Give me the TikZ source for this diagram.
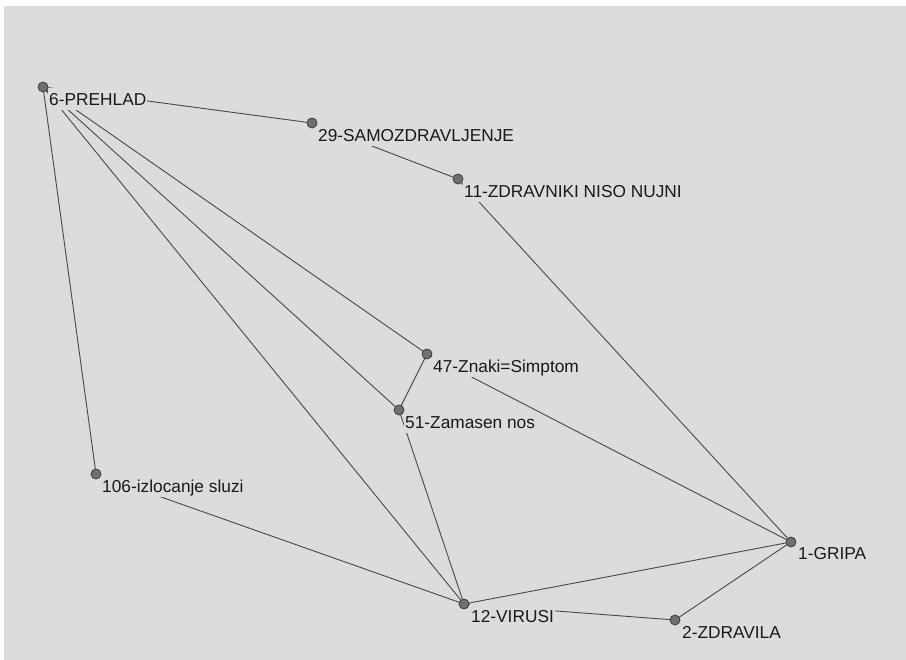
\documentclass[tikz,border=0pt]{standalone}
\usepackage{fontspec}
\setmainfont{Liberation Sans}
\usetikzlibrary{backgrounds}
\definecolor{canvas}{RGB}{220,220,220}
\definecolor{edgecol}{RGB}{72,72,72}
\definecolor{dotfill}{RGB}{112,112,112}
\definecolor{dotline}{RGB}{60,60,60}
\tikzset{
  vertex/.style={circle, fill=dotfill, draw=dotline, line width=0.8pt, minimum size=10pt, inner sep=0pt},
  tag/.style={anchor=base west, fill=canvas, inner xsep=1pt, inner ysep=0pt,
    text height=18pt, text depth=4pt, font=\fontsize{17.3}{20}\selectfont, text=black!90},
  link/.style={draw=edgecol, line width=0.9pt}
}
\begin{document}
\begin{tikzpicture}[x=1pt,y=-1pt]
\useasboundingbox (0,0) rectangle (906,660);
\begin{scope}[on background layer]
  \fill[white] (0,0) rectangle (906,660);
  \fill[canvas] (4,6) rectangle (906,660);
\end{scope}

% labels (opaque, they hide the edges passing underneath)
\node[tag] (l6)   at (48,106)  {6-PREHLAD};
\node[tag] (l29)  at (317,142) {29-SAMOZDRAVLJENJE};
\node[tag] (l11)  at (463,198) {11-ZDRAVNIKI NISO NUJNI};
\node[tag] (l47)  at (432,373) {47-Znaki=Simptom};
\node[tag] (l51)  at (404,429) {51-Zamasen nos};
\node[tag] (l106) at (101,493) {106-izlocanje sluzi};
\node[tag] (l12)  at (470,622) {12-VIRUSI};
\node[tag] (l2)   at (681,638) {2-ZDRAVILA};
\node[tag] (l1)   at (797,559) {1-GRIPA};

% vertices
\node[vertex] (n6)   at (43,87)   {};
\node[vertex] (n29)  at (312,123) {};
\node[vertex] (n11)  at (458,179) {};
\node[vertex] (n47)  at (427,354) {};
\node[vertex] (n51)  at (399,410) {};
\node[vertex] (n106) at (96,474)  {};
\node[vertex] (n12)  at (464,604) {};
\node[vertex] (n2)   at (675,620) {};
\node[vertex] (n1)   at (791,542) {};

% edges
\begin{scope}[on background layer]
  \draw[link] (n6.center) -- (n29.center);
  \draw[link] (n29.center) -- (n11.center);
  \draw[link] (n11.center) -- (n1.center);
  \draw[link] (n6.center) -- (n47.center);
  \draw[link] (n6.center) -- (n51.center);
  \draw[link] (n6.center) -- (n12.center);
  \draw[link] (n6.center) -- (n106.center);
  \draw[link] (n47.center) -- (n51.center);
  \draw[link] (n47.center) -- (n1.center);
  \draw[link] (n51.center) -- (n12.center);
  \draw[link] (n106.center) -- (n12.center);
  \draw[link] (n12.center) -- (n1.center);
  \draw[link] (n12.center) -- (n2.center);
  \draw[link] (n2.center) -- (n1.center);
\end{scope}
\end{tikzpicture}
\end{document}
